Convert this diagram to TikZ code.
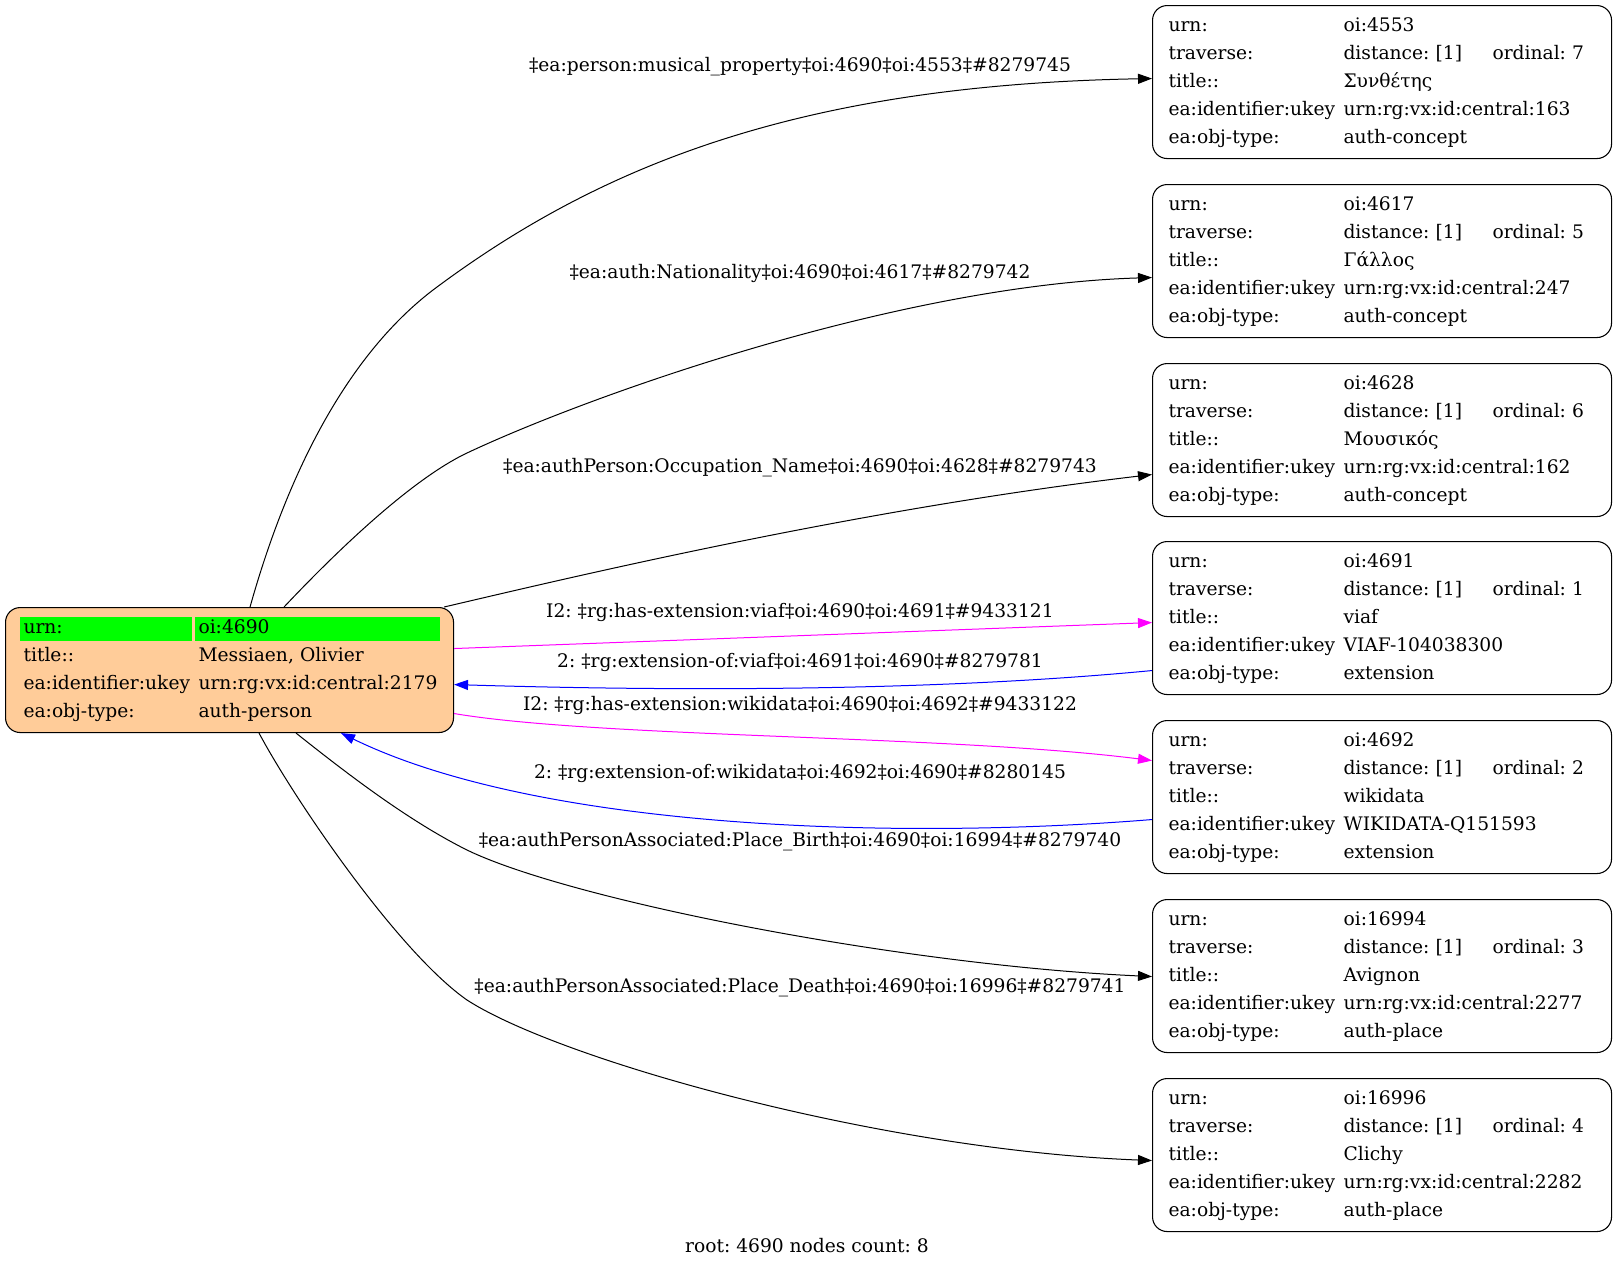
\documentclass[tikz,border=0pt]{standalone}
\usepackage{fontspec}
\setmainfont{DejaVu Serif}
\usepackage{xcolor}
\usetikzlibrary{arrows.meta,calc,positioning}

\definecolor{rootfill}{HTML}{FFCC99}
\definecolor{extpink}{RGB}{255,0,255}
\definecolor{extblue}{RGB}{0,0,255}
\definecolor{rowgreen}{RGB}{0,255,0}

\newcommand{\greencell}[1]{{\setlength{\fboxsep}{0pt}\colorbox{rowgreen}{\rule[-5.25pt]{0pt}{18pt}\makebox[\linewidth][l]{\hspace*{3pt}#1}}}}

\newcommand{\objtable}[5]{%
\begin{tabular}{@{}p{131.25pt}@{}l@{}}
urn: & #1\\
traverse: & \makebox[111.75pt][l]{distance: [1]}ordinal: #2\\
title:: & #3\\
ea:identifier:ukey & #4\\
ea:obj-type: & #5
\end{tabular}}

\begin{document}
\frenchspacing
\begin{tikzpicture}[x=0.75pt,y=-0.75pt,
font=\fontsize{14pt}{21pt}\selectfont\frenchspacing,
objbox/.style={draw=black, line width=0.8pt, rounded corners=11pt, anchor=north west,
minimum width=344.25pt, minimum height=114.75pt, inner xsep=12pt, inner ysep=0pt,
text width=320.25pt, align=left},
rootbox/.style={draw=black, line width=0.8pt, rounded corners=11pt, fill=rootfill, anchor=north west,
minimum width=335.25pt, minimum height=93.75pt, inner xsep=10.5pt, inner ysep=0pt,
text width=315pt, align=left},
edgelabel/.style={inner sep=0pt, anchor=center},
link/.style={line width=0.75pt, -{Triangle[length=10.5pt,width=7.5pt]}}]
\useasboundingbox (0,0) rectangle (1616,1268);

\node[rootbox] (root) at (5,607) {%
\begin{tabular}{@{}p{129pt}@{\hspace{2.25pt}}p{183.75pt}@{}}
\greencell{urn:} & \greencell{oi:4690}\\
\hspace*{3pt}title:: & \hspace*{3pt}Messiaen, Olivier\\
\hspace*{3pt}ea:identifier:ukey & \hspace*{3pt}urn:rg:vx:id:central:2179\\
\hspace*{3pt}ea:obj-type: & \hspace*{3pt}auth-person
\end{tabular}};

\node[objbox] (box1) at (1152,5) {\objtable{oi:4553}{7}{Συνθέτης}{urn:rg:vx:id:central:163}{auth-concept}};
\node[objbox] (box2) at (1152,184) {\objtable{oi:4617}{5}{Γάλλος}{urn:rg:vx:id:central:247}{auth-concept}};
\node[objbox] (box3) at (1152,363) {\objtable{oi:4628}{6}{Μουσικός}{urn:rg:vx:id:central:162}{auth-concept}};
\node[objbox] (box4) at (1152,541) {\objtable{oi:4691}{1}{viaf}{VIAF-104038300}{extension}};
\node[objbox] (box5) at (1152,720) {\objtable{oi:4692}{2}{wikidata}{WIKIDATA-Q151593}{extension}};
\node[objbox] (box6) at (1152,899) {\objtable{oi:16994}{3}{Avignon}{urn:rg:vx:id:central:2277}{auth-place}};
\node[objbox] (box7) at (1152,1078) {\objtable{oi:16996}{4}{Clichy}{urn:rg:vx:id:central:2282}{auth-place}};

\node[edgelabel] (lab1) at (800,67) {‡ea:person:musical\_property‡oi:4690‡oi:4553‡\#8279745};
\node[edgelabel] (lab2) at (800,273) {‡ea:auth:Nationality‡oi:4690‡oi:4617‡\#8279742};
\node[edgelabel] (lab3) at (800,468) {‡ea:authPerson:Occupation\_Name‡oi:4690‡oi:4628‡\#8279743};
\node[edgelabel] (lab4) at (800,612) {I2: ‡rg:has-extension:viaf‡oi:4690‡oi:4691‡\#9433121};
\node[edgelabel] (lab5) at (800,662) {2: ‡rg:extension-of:viaf‡oi:4691‡oi:4690‡\#8279781};
\node[edgelabel] (lab6) at (800,705) {I2: ‡rg:has-extension:wikidata‡oi:4690‡oi:4692‡\#9433122};
\node[edgelabel] (lab7) at (800,773) {2: ‡rg:extension-of:wikidata‡oi:4692‡oi:4690‡\#8280145};
\node[edgelabel] (lab8) at (800,842) {‡ea:authPersonAssociated:Place\_Birth‡oi:4690‡oi:16994‡\#8279740};
\node[edgelabel] (lab9) at (800,988) {‡ea:authPersonAssociated:Place\_Death‡oi:4690‡oi:16996‡\#8279741};
\node[edgelabel] (caption) at (807,1246) {root: 4690 nodes count: 8};

\draw[link] ($(root.north)+(20.5,0)$) .. controls (280,500) and (335,365) .. (433,290) .. controls (600,165) and (800,85) .. ($(box1.west)+(0,-3.5)$);
\draw[link] ($(root.north)+(54.5,0)$) .. controls (333,555) and (410,480) .. (467,453) .. controls (590,395) and (900,285) .. ($(box2.west)+(0,16.5)$);
\draw[link] ($(root.north east)+(-10,0)$) .. controls (560,580) and (850,510) .. ($(box3.west)+(0,34.5)$);
\draw[link, extpink] ($(root.east)+(0,-21.5)$) -- ($(box4.west)+(0,4.5)$);
\draw[link, extblue] ($(box4.west)+(0,52.5)$) .. controls (950,690) and (700,692) .. ($(root.east)+(0,14.5)$);
\draw[link, extpink] ($(root.east)+(0,43.5)$) .. controls (600,738) and (950,735) .. ($(box5.west)+(0,-36.5)$);
\draw[link, extblue] ($(box5.west)+(0,22.5)$) .. controls (900,840) and (540,830) .. ($(root.south)+(111.5,0)$);
\draw[link] ($(root.south)+(66.5,0)$) .. controls (345,772) and (407,820) .. (467,850) .. controls (570,900) and (900,965) .. ($(box6.west)+(0,0.5)$);
\draw[link] ($(root.south)+(29.5,0)$) .. controls (293,797) and (397,951) .. (467,1000) .. controls (560,1060) and (880,1150) .. ($(box7.west)+(0,5.5)$);
\end{tikzpicture}
\end{document}
